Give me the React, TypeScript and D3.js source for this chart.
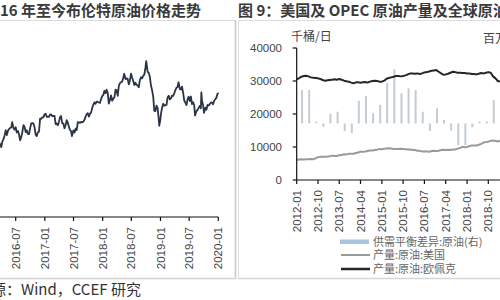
import React from 'react';
import * as d3 from 'd3';

// ---------- Left chart: Brent price (USD/bbl), weekly ----------
const brentSeries: [string, number][] = [
  ["2016-02-26",35.1],["2016-03-04",38.7],["2016-03-11",40.4],["2016-03-18",41.2],["2016-03-24",40.4],["2016-04-01",38.7],["2016-04-08",41.9],["2016-04-15",43.1],["2016-04-22",45.1],["2016-04-29",48.1],["2016-05-06",45.4],["2016-05-13",47.8],["2016-05-20",48.7],["2016-05-27",49.3],["2016-06-03",49.6],["2016-06-09",52.5],["2016-06-17",49.2],["2016-06-24",48.4],["2016-07-01",49.7],["2016-07-08",46.8],["2016-07-15",47.6],["2016-07-22",45.7],["2016-07-29",42.5],["2016-08-05",44.3],["2016-08-12",47.0],["2016-08-19",50.9],["2016-08-26",49.9],["2016-09-02",47.0],["2016-09-09",48.0],["2016-09-16",46.0],["2016-09-23",45.9],["2016-09-30",49.1],["2016-10-07",51.9],["2016-10-14",52.0],["2016-10-21",51.8],["2016-10-28",49.7],["2016-11-04",45.6],["2016-11-11",44.8],["2016-11-18",46.9],["2016-11-25",47.2],["2016-12-02",54.5],["2016-12-09",54.3],["2016-12-16",55.2],["2016-12-23",55.2],["2016-12-30",56.8],
  ["2017-01-06",57.1],["2017-01-13",55.5],["2017-01-20",55.5],["2017-01-27",55.5],["2017-02-03",56.8],["2017-02-10",56.7],["2017-02-17",55.8],["2017-02-24",56.0],["2017-03-03",56.0],["2017-03-10",51.4],["2017-03-17",51.8],["2017-03-24",50.8],["2017-03-31",52.8],["2017-04-07",55.2],["2017-04-13",55.9],["2017-04-21",52.0],["2017-04-28",51.7],["2017-05-05",49.1],["2017-05-12",50.8],["2017-05-19",53.6],["2017-05-26",52.2],["2017-06-02",49.9],["2017-06-09",48.2],["2017-06-16",47.4],["2017-06-21",44.8],["2017-06-30",47.9],["2017-07-07",46.7],["2017-07-14",48.9],["2017-07-21",48.1],["2017-07-28",52.5],["2017-08-04",52.4],["2017-08-11",52.1],["2017-08-18",52.7],["2017-08-25",52.4],["2017-09-01",52.8],["2017-09-08",53.8],["2017-09-15",55.6],["2017-09-22",56.9],["2017-09-29",57.5],["2017-10-06",55.6],["2017-10-13",57.2],["2017-10-20",57.8],["2017-10-27",60.4],["2017-11-03",62.1],["2017-11-10",63.5],["2017-11-17",62.7],["2017-11-24",63.9],["2017-12-01",63.7],["2017-12-08",63.4],["2017-12-15",63.2],["2017-12-22",65.3],["2017-12-29",66.9],
  ["2018-01-05",67.6],["2018-01-12",69.9],["2018-01-19",68.6],["2018-01-26",70.5],["2018-02-02",68.6],["2018-02-09",62.8],["2018-02-16",64.8],["2018-02-23",67.3],["2018-03-02",64.4],["2018-03-09",65.5],["2018-03-16",66.2],["2018-03-23",70.5],["2018-03-29",70.3],["2018-04-06",67.1],["2018-04-13",72.6],["2018-04-20",74.1],["2018-04-27",74.6],["2018-05-04",74.9],["2018-05-11",77.1],["2018-05-17",79.3],["2018-05-25",76.4],["2018-06-01",76.8],["2018-06-08",76.5],["2018-06-15",73.4],["2018-06-22",75.6],["2018-06-29",79.4],["2018-07-06",77.1],["2018-07-13",75.3],["2018-07-20",73.1],["2018-07-27",74.3],["2018-08-03",73.2],["2018-08-10",72.8],["2018-08-17",71.8],["2018-08-24",75.8],["2018-08-31",77.4],["2018-09-07",76.8],["2018-09-14",78.1],["2018-09-21",78.8],["2018-09-28",82.7],["2018-10-03",86.3],["2018-10-12",80.4],["2018-10-19",79.8],["2018-10-26",77.6],["2018-11-02",72.8],["2018-11-09",70.2],["2018-11-16",66.8],["2018-11-23",58.8],["2018-11-30",58.7],["2018-12-07",61.7],["2018-12-14",60.3],["2018-12-21",54.0],["2018-12-24",50.5],["2018-12-31",53.8],
  ["2019-01-04",57.1],["2019-01-11",60.5],["2019-01-18",62.7],["2019-01-25",61.6],["2019-02-01",61.9],["2019-02-08",62.1],["2019-02-15",66.3],["2019-02-22",67.1],["2019-03-01",65.1],["2019-03-08",65.7],["2019-03-15",67.2],["2019-03-22",67.0],["2019-03-29",68.4],["2019-04-05",70.3],["2019-04-12",71.6],["2019-04-19",72.0],["2019-04-25",74.6],["2019-05-03",70.9],["2019-05-10",70.6],["2019-05-17",72.2],["2019-05-24",68.7],["2019-05-31",64.5],["2019-06-07",63.3],["2019-06-14",62.0],["2019-06-21",65.2],["2019-06-28",66.6],["2019-07-05",64.2],["2019-07-12",66.7],["2019-07-19",62.5],["2019-07-26",63.5],["2019-08-02",61.9],["2019-08-07",56.2],["2019-08-16",58.6],["2019-08-23",59.3],["2019-08-30",60.4],["2019-09-06",61.5],["2019-09-13",60.2],["2019-09-16",69.0],["2019-09-20",64.3],["2019-09-27",61.9],["2019-10-03",57.7],["2019-10-11",60.5],["2019-10-18",59.4],["2019-10-25",62.0],["2019-11-01",61.7],["2019-11-08",62.5],["2019-11-15",63.3],["2019-11-22",63.4],["2019-11-29",62.4],["2019-12-06",64.4],["2019-12-13",65.2],["2019-12-20",66.1],["2019-12-27",68.2],["2020-01-03",68.6]
];
const leftTicks = ["2016-07","2017-01","2017-07","2018-01","2018-07","2019-01","2019-07","2020-01"];

// ---------- Right chart: production (k b/d), monthly from 2012-01 ----------
const prodStart = "2012-01";
const usProd = [
  6.14,6.24,6.27,6.22,6.29,6.27,6.35,6.30,6.55,6.93,7.03,7.06,
  7.08,7.13,7.19,7.38,7.30,7.27,7.53,7.55,7.81,7.76,7.92,7.97,
  7.98,8.19,8.35,8.54,8.58,8.67,8.78,8.91,8.94,9.09,9.13,9.42,
  9.35,9.44,9.58,9.65,9.54,9.41,9.43,9.41,9.45,9.38,9.32,9.26,
  9.21,9.07,9.08,8.86,8.83,8.67,8.66,8.68,8.53,8.80,8.86,8.80,
  8.86,9.11,9.17,9.11,9.17,9.11,9.24,9.24,9.51,9.66,10.07,9.95,
  10.01,10.27,10.46,10.48,10.44,10.67,10.97,11.35,11.48,11.56,11.91,11.96,
  11.87,11.67,11.91
].map(v => v * 1000);
const opecProd = [
  30.5,30.9,31.3,31.5,31.6,31.4,31.1,31.0,30.9,30.8,30.6,30.3,
  30.1,30.2,30.3,30.4,30.5,30.4,30.6,30.4,30.1,29.9,29.8,29.5,
  29.3,29.6,29.6,29.5,29.6,29.7,29.5,29.8,30.0,30.1,30.0,29.8,
  29.8,30.1,30.7,30.9,31.1,31.3,31.5,31.5,31.4,31.5,31.7,32.0,
  32.3,32.3,32.2,32.3,32.1,32.3,32.6,32.7,32.9,33.1,33.2,33.3,
  32.8,32.3,31.9,32.0,32.2,32.5,32.8,32.7,32.5,32.5,32.4,32.4,
  32.3,32.3,32.1,32.1,32.0,32.2,32.4,32.3,32.5,32.7,32.5,31.4,
  30.8,30.0,29.8
].map(v => v * 1000);
// quarterly supply-demand balance (mb/d, right axis)
const balanceQuarters = [
  "2012-03","2012-06","2012-09","2012-12","2013-03","2013-06","2013-09","2013-12",
  "2014-03","2014-06","2014-09","2014-12","2015-03","2015-06","2015-09","2015-12",
  "2016-03","2016-06","2016-09","2016-12","2017-03","2017-06","2017-09","2017-12",
  "2018-03","2018-06","2018-09","2018-12"
];
const balanceValues = [
  1.77,1.77,0.1,-0.18,0.5,0.62,-0.4,-0.5,
  1.2,1.45,0.54,0.98,2.16,2.87,1.6,1.86,
  1.77,0.62,-0.4,0.8,0.18,-0.39,-1.15,-1.15,
  -0.2,0.1,0.1,1.24
];
const rightTicks = ["2012-01","2012-10","2013-07","2014-04","2015-01","2015-10","2016-07","2017-04","2018-01","2018-10"];
const leftAxisTicks = [0, 10000, 20000, 30000, 40000];
const legendItems = ["供需平衡差异:原油(右)", "产量:原油:美国", "产量:原油:欧佩克"];

const NUM = "'Liberation Sans', Arial, sans-serif";
const CJK = "'Noto Sans CJK SC', sans-serif";

export default function App() {
  const pDay = d3.timeParse("%Y-%m-%d");
  const pMon = d3.timeParse("%Y-%m");

  // left
  const xL = d3.scaleTime().domain([pMon("2016-07")!, pMon("2020-01")!]).range([15.7, 218.3]);
  const yL = d3.scaleLinear().domain([0, 100]).range([217, 36.4]);
  const brentPath = d3.line<[string, number]>()
    .x(d => xL(pDay(d[0])!))
    .y(d => yL(d[1]))(brentSeries) || "";

  // right
  const xR = d3.scaleTime().domain([pMon("2012-01")!, pMon("2018-10")!]).range([296.7, 488.3]);
  const yR = d3.scaleLinear().domain([0, 40000]).range([180, 48]);
  const yR2 = d3.scaleLinear().domain([-3, 4]).range([180, 48]);
  const start = pMon(prodStart)!;
  const monthDates = usProd.map((_, i) => d3.timeMonth.offset(start, i));
  const lineR = d3.line<number>().x((_, i) => xR(monthDates[i])).y(v => yR(v));
  const usPath = lineR(usProd) || "";
  const opecPath = lineR(opecProd) || "";

  return (
    <svg width={500} height={300} style={{ position: 'absolute', left: 0, top: 0, background: '#fff' }}>
      <rect x={0} y={0} width={500} height={300} fill="#fff" />
      {/* panel frames */}
      <line x1={0} x2={235} y1={20.5} y2={20.5} stroke="#dcdcdc" />
      <line x1={238} x2={500} y1={20.5} y2={20.5} stroke="#dcdcdc" />
      <line x1={235.5} x2={235.5} y1={20} y2={279} stroke="#c8c8c8" strokeWidth={1.5} />
      <line x1={238.5} x2={238.5} y1={20} y2={279} stroke="#dedede" />
      <line x1={0} x2={236} y1={278.5} y2={278.5} stroke="#d2d2d2" strokeWidth={1.5} />
      <line x1={238} x2={500} y1={278.5} y2={278.5} stroke="#d6d6d6" strokeWidth={1.5} />

      {/* titles */}
      <text x={0} y={16} fontFamily={CJK} fontSize={15} fontWeight={700} fill="#3a3a3a">16 年至今布伦特原油价格走势</text>
      <text x={238} y={16} fontFamily={CJK} fontSize={15} fontWeight={700} fill="#3a3a3a">图 9：美国及 OPEC 原油产量及全球原油供需平衡</text>
      <text x={-24} y={295} fontFamily={CJK} fontSize={15} fill="#333">来源：Wind，CCEF 研究</text>

      {/* left chart */}
      <path d={brentPath} fill="none" stroke="#2b3447" strokeWidth={1.8} strokeLinejoin="round" />
      <line x1={0} x2={xL(pMon("2020-01")!)} y1={217} y2={217} stroke="#111" strokeWidth={1.2} />
      {leftTicks.map(t => {
        const x = xL(pMon(t)!);
        return (
          <g key={t}>
            <line x1={x} x2={x} y1={217} y2={221} stroke="#111" strokeWidth={1.2} />
            <text transform={`translate(${x},${227}) rotate(-90)`} textAnchor="end" dy="0.35em"
              fontFamily={NUM} fontSize={11.5} fill="#444">{t}</text>
          </g>
        );
      })}

      {/* right chart */}
      <text x={291} y={41} fontFamily={CJK} fontSize={12} fill="#444">千桶/日</text>
      <text x={483} y={43} fontFamily={CJK} fontSize={12} fill="#444">百万桶/日</text>
      {balanceQuarters.map((q, i) => {
        const x = xR(d3.timeDay.offset(pMon(q)!, 9));
        const v = balanceValues[i];
        const y0 = yR2(0), y1 = yR2(v);
        return <rect key={q} x={x - 1} width={2} y={Math.min(y0, y1)} height={Math.abs(y1 - y0)} fill="#c3ccd4" />;
      })}
      <path d={usPath} fill="none" stroke="#9a9a9a" strokeWidth={2} strokeLinejoin="round" />
      <path d={opecPath} fill="none" stroke="#262626" strokeWidth={2} strokeLinejoin="round" />
      <line x1={296.7} x2={296.7} y1={48} y2={180} stroke="#111" strokeWidth={1.2} />
      {leftAxisTicks.map(v => (
        <g key={v}>
          <line x1={292.7} x2={296.7} y1={yR(v)} y2={yR(v)} stroke="#111" strokeWidth={1.2} />
          <text x={282} y={yR(v)} dy="0.35em" textAnchor="end" fontFamily={NUM} fontSize={11.5} fill="#444">{v}</text>
        </g>
      ))}
      <line x1={296.7} x2={500} y1={180} y2={180} stroke="#111" strokeWidth={1.2} />
      {rightTicks.map(t => {
        const x = xR(pMon(t)!);
        return (
          <g key={t}>
            <line x1={x} x2={x} y1={180} y2={184} stroke="#111" strokeWidth={1.2} />
            <text transform={`translate(${x},${190}) rotate(-90)`} textAnchor="end" dy="0.35em"
              fontFamily={NUM} fontSize={11.5} fill="#444">{t}</text>
          </g>
        );
      })}
      {/* legend */}
      <rect x={340} y={239.5} width={29} height={4.5} fill="#a9c4de" />
      <line x1={341} x2={370} y1={255} y2={255} stroke="#9a9a9a" strokeWidth={2} />
      <line x1={341} x2={370} y1={269} y2={269} stroke="#262626" strokeWidth={2.5} />
      {legendItems.map((t, i) => (
        <text key={t} x={373} y={241.7 + i * 13.8} dy="0.35em" fontFamily={CJK} fontSize={11} fill="#666">{t}</text>
      ))}
    </svg>
  );
}
